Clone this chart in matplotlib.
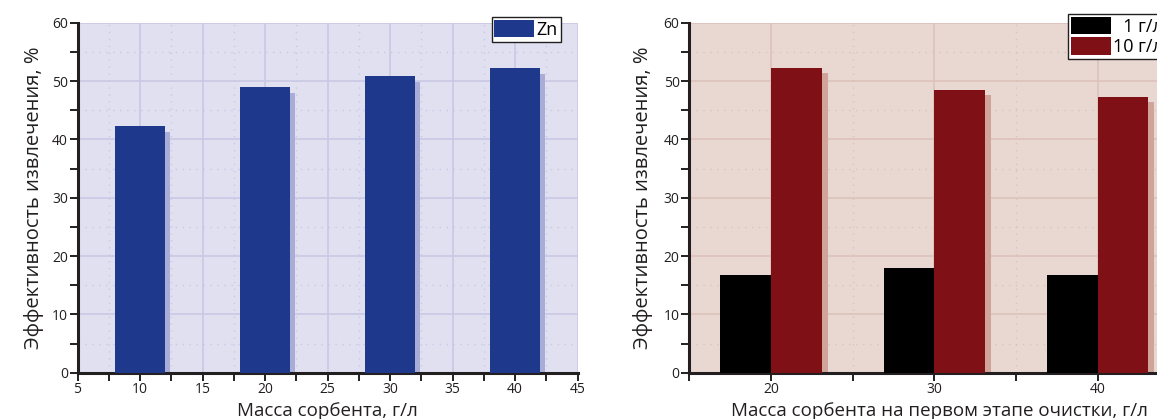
import matplotlib
matplotlib.use('Agg')
import matplotlib.pyplot as plt
from matplotlib.ticker import MultipleLocator, FixedLocator

plt.rcParams['font.family'] = ['Open Sans', 'DejaVu Sans']

# left panel: Zn extraction vs sorbent mass
mass_zn = [10, 20, 30, 40]
eff_zn = [42.3, 49.0, 50.9, 52.2]

# right panel: extraction vs sorbent mass on first stage
mass_stage = [20, 30, 40]
eff_1gl = [16.75, 17.95, 16.75]
eff_10gl = [52.2, 48.5, 47.3]
legend_labels = ['\u20071 г/л', '10 г/л']

ylab = 'Эффективность извлечения, %'
xlab_left = 'Масса сорбента, г/л'
xlab_right = 'Масса сорбента на первом этапе очистки, г/л'

W, H = 1157, 419
fig = plt.figure(figsize=(W / 100, H / 100), dpi=100)

def style_axes(ax, bg, grid_c):
    ax.set_facecolor(bg)
    for s in ['top', 'right']:
        ax.spines[s].set_visible(False)
    for s in ['left', 'bottom']:
        ax.spines[s].set_linewidth(2.2)
        ax.spines[s].set_color('#231f20')
    ax.set_ylim(0, 60)
    ax.yaxis.set_major_locator(MultipleLocator(10))
    ax.yaxis.set_minor_locator(MultipleLocator(5))
    ax.tick_params(which='both', direction='out', length=5.5, width=1.4, color='#231f20',
                   labelsize=10, labelcolor='#231f20', pad=1.5)
    ax.grid(which='major', color=grid_c, linewidth=1.2, linestyle='-')
    ax.grid(which='minor', color=grid_c, linewidth=1.0, linestyle=(0, (1, 4)))
    ax.set_axisbelow(True)
    ax.set_ylabel(ylab, fontsize=14.5, color='#231f20')

# ---- left ----
ax1 = fig.add_axes([77.5 / W, 1 - 372.7 / H, 500 / W, 350 / H])
style_axes(ax1, '#e0e0f1', '#c9c9e6')
ax1.set_xlim(5, 45)
ax1.xaxis.set_major_locator(MultipleLocator(5))
ax1.xaxis.set_minor_locator(FixedLocator([7.5, 12.5, 17.5, 22.5, 27.5, 32.5, 37.5, 42.5]))
ax1.bar([m + 0.4 for m in mass_zn], [v - 1.0 for v in eff_zn], width=4, align='center',
        color='#a9acd6', zorder=2)
ax1.bar(mass_zn, eff_zn, width=4, color='#1e388b', zorder=3, label='Zn')
ax1.set_xlabel(xlab_left, fontsize=13.5, color='#231f20')
ax1.yaxis.set_label_coords(-0.067, 0.5)
ax1.xaxis.set_label_coords(0.5, -0.085)
ax1.legend(loc='upper left', bbox_to_anchor=(491.7 / W, 1 - 17.3 / H),
           bbox_transform=fig.transFigure, fontsize=13, frameon=True, fancybox=False,
           edgecolor='#231f20', framealpha=1, borderpad=0.15, handlelength=2.2,
           handleheight=1.1, handletextpad=0.15, borderaxespad=0)

# ---- right ----
ax2 = fig.add_axes([689.3 / W, 1 - 372.7 / H, 490 / W, 350 / H])
style_axes(ax2, '#e9d8d2', '#dcc2b9')
ax2.set_xlim(15, 45)
ax2.xaxis.set_major_locator(FixedLocator([20, 30, 40]))
ax2.xaxis.set_minor_locator(FixedLocator([15, 25, 35, 45]))
bw = 3.1
ax2.bar([m + bw / 2 + 0.37 for m in mass_stage], [v - 0.9 for v in eff_10gl], width=bw,
        color='#d0a498', zorder=2)
ax2.bar([m - bw / 2 for m in mass_stage], eff_1gl, width=bw, color='#000000', zorder=3,
        label=legend_labels[0])
ax2.bar([m + bw / 2 for m in mass_stage], eff_10gl, width=bw, color='#7f1116', zorder=3,
        label=legend_labels[1])
ax2.set_xlabel(xlab_right, fontsize=13.5, color='#231f20')
ax2.yaxis.set_label_coords(-0.074, 0.5)
ax2.xaxis.set_label_coords(0.51, -0.085)
ax2.legend(loc='upper left', bbox_to_anchor=(1068.3 / W, 1 - 14 / H),
           bbox_transform=fig.transFigure, fontsize=13, frameon=True, fancybox=False,
           edgecolor='#231f20', framealpha=1, borderpad=0.15, handlelength=2.2,
           handleheight=1.1, handletextpad=0.15, labelspacing=0.1, borderaxespad=0)

fig.savefig('out.png', dpi=100)
